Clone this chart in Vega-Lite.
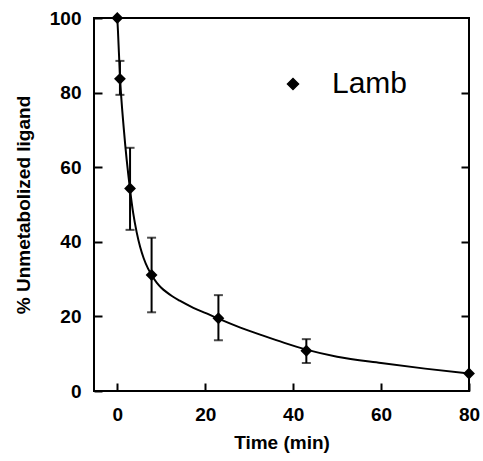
{
  "$schema": "https://vega.github.io/schema/vega-lite/v6.json",
  "width": 375,
  "height": 373,
  "autosize": "none",
  "padding": {"left": 94, "top": 18, "right": 14, "bottom": 70},
  "background": "white",
  "config": {
    "view": {"stroke": "black", "strokeWidth": 2},
    "font": "Liberation Sans",
    "axis": {
      "grid": false,
      "domain": false,
      "labelFlush": false,
      "tickColor": "black",
      "tickSize": -8,
      "tickWidth": 2,
      "labelFont": "Liberation Sans",
      "labelFontWeight": "bold",
      "labelFontSize": 19,
      "labelColor": "black",
      "titleFont": "Liberation Sans",
      "titleFontWeight": "bold",
      "titleFontSize": 19,
      "titleColor": "black"
    }
  },
  "datasets": {
    "points": [
      {"t": 0, "pct": 100, "series": "Lamb"},
      {"t": 0.6, "pct": 83.7, "series": "Lamb"},
      {"t": 2.9, "pct": 54.3, "series": "Lamb"},
      {"t": 7.8, "pct": 31.1, "series": "Lamb"},
      {"t": 23, "pct": 19.5, "series": "Lamb"},
      {"t": 43, "pct": 10.8, "series": "Lamb"},
      {"t": 80, "pct": 4.7, "series": "Lamb"}
    ],
    "errors": [
      {"t": 0.6, "lo": 79.4, "hi": 88.5},
      {"t": 2.9, "lo": 43.2, "hi": 65.2},
      {"t": 7.8, "lo": 21.1, "hi": 41.1},
      {"t": 23, "lo": 13.6, "hi": 25.7},
      {"t": 43, "lo": 7.5, "hi": 13.9}
    ],
    "curve": [
      {"t": 0, "pct": 100},
      {"t": 0.15, "pct": 96.5},
      {"t": 0.6, "pct": 84.5},
      {"t": 1.5, "pct": 70},
      {"t": 2.9, "pct": 54},
      {"t": 3.6, "pct": 47.8},
      {"t": 4.4, "pct": 42.6},
      {"t": 5.2, "pct": 38.6},
      {"t": 6, "pct": 35.6},
      {"t": 7, "pct": 32.8},
      {"t": 7.8, "pct": 31.1},
      {"t": 9, "pct": 29},
      {"t": 10, "pct": 27.7},
      {"t": 11.2, "pct": 26.5},
      {"t": 12.5, "pct": 25.4},
      {"t": 14.2, "pct": 24.2},
      {"t": 17.3, "pct": 22.3},
      {"t": 20.3, "pct": 20.8},
      {"t": 23, "pct": 19.4},
      {"t": 28, "pct": 17},
      {"t": 33, "pct": 14.9},
      {"t": 38, "pct": 12.9},
      {"t": 43, "pct": 11.1},
      {"t": 50, "pct": 9.2},
      {"t": 60, "pct": 7.5},
      {"t": 70, "pct": 6},
      {"t": 80, "pct": 4.7}
    ]
  },
  "resolve": {"axis": {"y": "independent"}},
  "layer": [
    {
      "data": {"name": "curve"},
      "mark": {"type": "line", "color": "black", "strokeWidth": 2, "interpolate": "monotone"},
      "encoding": {
        "x": {
          "field": "t", "type": "quantitative",
          "scale": {"domain": [-5.3, 80], "nice": false, "zero": false},
          "axis": {"values": [0, 20, 40, 60, 80], "title": "Time (min)", "labelPadding": 22, "titlePadding": 9}
        },
        "y": {
          "field": "pct", "type": "quantitative",
          "scale": {"domain": [0, 100], "nice": false},
          "axis": {"orient": "left", "values": [0, 20, 40, 60, 80, 100], "title": "% Unmetabolized ligand", "labelPadding": 21, "titlePadding": 16}
        }
      }
    },
    {
      "data": {"name": "errors"},
      "mark": {"type": "errorbar", "color": "black", "ticks": {"size": 9, "thickness": 2}, "rule": {"strokeWidth": 2}},
      "encoding": {
        "x": {"field": "t", "type": "quantitative"},
        "y": {"field": "lo", "type": "quantitative", "axis": null},
        "y2": {"field": "hi"}
      }
    },
    {
      "data": {"name": "points"},
      "mark": {"type": "point", "shape": "diamond", "filled": true, "size": 140, "opacity": 1},
      "encoding": {
        "x": {"field": "t", "type": "quantitative"},
        "y": {"field": "pct", "type": "quantitative", "axis": null},
        "color": {
          "field": "series", "type": "nominal",
          "scale": {"domain": ["Lamb"], "range": ["black"]},
          "legend": {
            "orient": "none", "legendX": 184, "legendY": 51, "title": null,
            "padding": 0, "labelFontSize": 30, "labelFont": "Liberation Sans",
            "labelColor": "black", "symbolType": "diamond", "symbolSize": 121,
            "symbolFillColor": "black", "symbolStrokeColor": "black", "symbolOpacity": 1,
            "labelOffset": 24
          }
        }
      }
    },
    {
      "data": {"name": "points"},
      "mark": {"type": "point", "opacity": 0},
      "encoding": {
        "x": {"field": "t", "type": "quantitative"},
        "y": {
          "field": "pct", "type": "quantitative",
          "axis": {"orient": "right", "values": [20, 40, 60, 80], "labels": false, "title": null}
        }
      }
    }
  ]
}
